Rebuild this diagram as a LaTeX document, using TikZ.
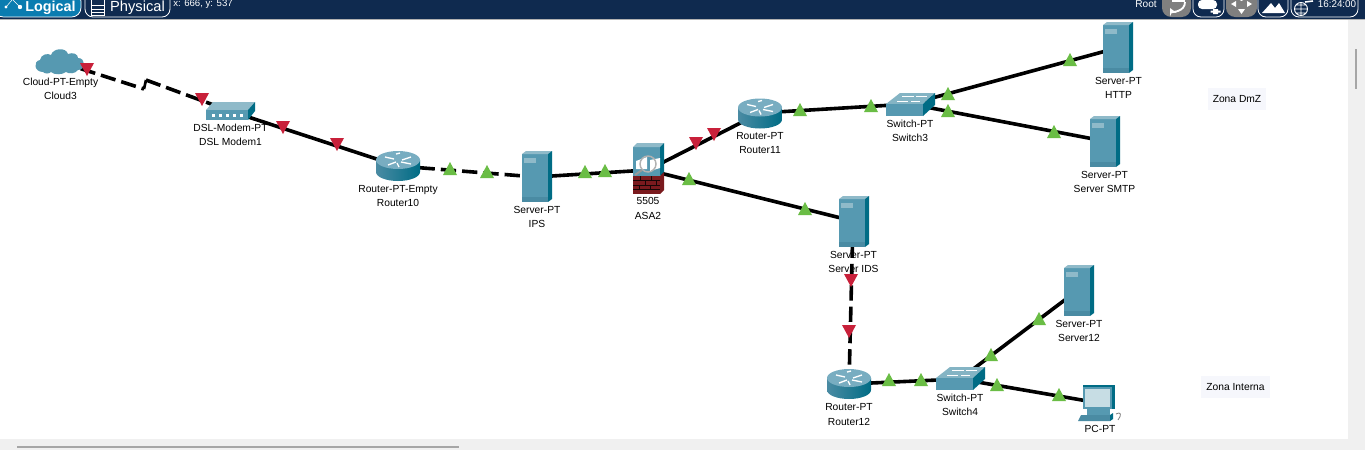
\documentclass[tikz,border=0pt]{standalone}
\usepackage{fontspec}
\setmainfont{Liberation Sans}
\definecolor{barblue}{HTML}{0F2A4F}
\definecolor{tabblue}{HTML}{0A7CB0}
\definecolor{devfront}{HTML}{5699B1}
\definecolor{devtop}{HTML}{8FBAC9}
\definecolor{devside}{HTML}{006C85}
\definecolor{devdark}{HTML}{4A8BA3}
\definecolor{grn}{HTML}{6ABD45}
\definecolor{rd}{HTML}{C8203A}
\definecolor{brick}{HTML}{7A1A1E}
\definecolor{panel}{HTML}{F0F0F0}
\definecolor{zonebg}{HTML}{F6F7FC}
\definecolor{btngray}{HTML}{7F7F7F}
\tikzset{
  anchorpt/.style={inner sep=0pt,minimum size=0pt},
  link/.style={line width=2.7pt,black},
  dashlink/.style={link,dash pattern=on 11.5pt off 4.5pt},
  lab/.style={font=\fontsize{7.7pt}{10.6pt}\selectfont,align=center,text=black,inner sep=0pt},
  zone/.style={lab,fill=zonebg,inner sep=0pt},
  bartext/.style={text=white,inner sep=0pt},
  btn/.style={draw=white,line width=.6pt,rounded corners=6pt},
  upt/.pic={\fill[grn] (-7,6) -- (0,-7) -- (7,6) -- cycle;},
  dnt/.pic={\fill[rd] (-7,-6) -- (0,7) -- (7,-6) -- cycle;},
  serverpic/.pic={
    \fill[devfront] (1,3) rectangle (27,51);
    \fill[devdark] (1,46) rectangle (27,51);
    \fill[devtop] (1,3) -- (5,0) -- (31,0) -- (27,3) -- cycle;
    \fill[devside] (27,3) -- (31,0) -- (31,48) -- (27,51) -- cycle;
    \fill[devtop] (3,7) rectangle (15,12);
  },
  routerpic/.pic={
    \shade[left color=devdark,middle color=white,right color=devside]
      (-22,-6) -- (-22,6) arc[start angle=180,end angle=0,x radius=22,y radius=9] -- (22,-6) -- cycle;
    \fill[devfront!80!white] (0,-6) ellipse[x radius=22,y radius=9];
    \draw[white,line width=1pt] (-13,-9) -- (-4,-7) (-2,-4) -- (-10,-1) (13,-9) -- (4,-6) (3,-4) -- (13,-2) (-2,-12) -- (2,-13) (-1,-3) -- (1,1);
  },
  switchpic/.pic={
    \fill[devtop!80!devfront] (0,11) -- (14,0) -- (49,0) -- (37,11) -- cycle;
    \fill[devfront] (0,11) rectangle (37,23);
    \fill[devside] (37,11) -- (49,0) -- (49,12) -- (37,23) -- cycle;
    \draw[white,line width=.5pt] (16,3) -- (28,3) (30,3) -- (41,3) (11,8) -- (22,8) (25,8) -- (34,8);
  },
  modempic/.pic={
    \fill[devtop] (0,8) -- (7,0) -- (49,0) -- (42,8) -- cycle;
    \fill[devfront] (0,8) rectangle (42,18);
    \fill[devside] (42,8) -- (49,0) -- (49,9) -- (42,18) -- cycle;
    \foreach \k in {6,13,20,27,34}{\fill[white] (\k,12) rectangle +(2.5,2.5);}
  },
  cloudpic/.pic={
    \shade[left color=devfront,middle color=devtop,right color=devfront]
      (-17,11) .. controls (-26,11) and (-27,0) .. (-20,-1)
      .. controls (-19,-7) and (-12,-8) .. (-9,-6)
      .. controls (-7,-13) and (6,-14) .. (8,-7)
      .. controls (13,-9) and (18,-7) .. (18,-3)
      .. controls (26,-3) and (26,9) .. (18,9)
      .. controls (15,13) and (9,13) .. (6,11)
      .. controls (2,14) and (-6,14) .. (-9,11)
      .. controls (-11,13) and (-15,13) .. (-17,11) -- cycle;
  },
  asapic/.pic={
    \fill[devfront] (0,4) rectangle (27,33);
    \fill[devtop] (0,4) -- (4,0) -- (31,0) -- (27,4) -- cycle;
    \fill[devside] (27,4) -- (31,0) -- (31,29) -- (27,33) -- cycle;
    \fill[brick] (0,33) rectangle (27,51);
    \fill[brick] (27,33) -- (31,29) -- (31,47) -- (27,51) -- cycle;
    \draw[black!80!brick,line width=.5pt] (0,37.5) -- (27,37.5) (0,42) -- (27,42) (0,46.5) -- (27,46.5) (7,33) -- (7,37.5) (18,33) -- (18,37.5) (12,37.5) -- (12,42) (23,37.5) -- (23,42) (6,42) -- (6,46.5) (17,42) -- (17,46.5);
    \fill[white] (3,18) -- (14,14) -- (14,26) -- (3,26) -- cycle;
    \fill[white] (17,17) -- (27,15) -- (27,25) -- (17,28) -- cycle;
    \draw[gray!60,line width=1.1pt] (15,21) circle[radius=8];
    \draw[gray!80,line width=1.5pt] (9,27) -- (2,32);
  },
  pcpic/.pic={
    \fill[devside] (0,0) rectangle (32,24);
    \fill[devfront] (0,2) rectangle (29,24);
    \fill[devtop!50!white] (2,4) rectangle (27,22);
    \fill[devfront] (4,24) rectangle (27,30);
    \fill[devdark] (-2,30) -- (27,30) -- (27,36) -- (-5,36) -- cycle;
    \fill[devside] (27,30) -- (30,28) -- (30,34) -- (27,36) -- cycle;
    \draw[gray,line width=.6pt] (33,29) .. controls (38,26) and (39,30) .. (35,35);
  }
}
\begin{document}
\begin{tikzpicture}[x=.75pt,y=-.75pt]
\useasboundingbox (0,0) rectangle (1365,450);
\fill[white] (0,0) rectangle (1365,450);
% panels
\fill[panel] (0,439) rectangle (1365,450);
\fill[panel] (1348,19) rectangle (1365,450);
\fill[gray!70] (1354.5,49) rectangle (1356.5,89);
\fill[gray!70] (17,445.5) rectangle (459,447.5);
% device anchors
\node[anchorpt] (cloud) at (60,62) {};
\coordinate (zigA) at (144,89);
\coordinate (zigB) at (146,80);
\node[anchorpt] (modem) at (230,111) {};
\node[anchorpt] (rten) at (398,166) {};
\node[anchorpt] (ips) at (536,177) {};
\node[anchorpt] (asa) at (648,170) {};
\node[anchorpt] (rele) at (760,113) {};
\node[anchorpt] (swthree) at (910,104) {};
\node[anchorpt] (http) at (1117,48) {};
\node[anchorpt] (smtp) at (1104,141) {};
\node[anchorpt] (ids) at (853,221) {};
\node[anchorpt] (rtw) at (849,384) {};
\node[anchorpt] (swfour) at (960,379) {};
\node[anchorpt] (srvtw) at (1078,290) {};
\node[anchorpt] (pc) at (1099,403) {};
% links
\draw[dashlink] (cloud) -- (zigA);
\draw[link,line width=2pt] (zigA) -- (zigB);
\draw[dashlink] (zigB) -- (modem);
\draw[link] (modem) -- (rten);
\draw[dashlink] (rten) -- (ips);
\draw[link] (ips) -- (asa);
\draw[link] (asa) -- (rele);
\draw[link] (asa) -- (ids);
\draw[link] (rele) -- (swthree);
\draw[link] (swthree) -- (http);
\draw[link] (swthree) -- (smtp);
\draw[dashlink] (ids) -- (rtw);
\draw[link] (rtw) -- (swfour);
\draw[link] (swfour) -- (srvtw);
\draw[link] (swfour) -- (pc);
% devices
\pic at (60,61) {cloudpic};
\pic at (206,102) {modempic};
\pic at (398,166) {routerpic};
\pic at (521,151) {serverpic};
\pic at (633,143) {asapic};
\pic at (760,113.5) {routerpic};
\pic at (886,93) {switchpic};
\pic at (1102,22) {serverpic};
\pic at (1089,116) {serverpic};
\pic at (838,196) {serverpic};
\pic at (1063,265) {serverpic};
\pic at (849,384) {routerpic};
\pic at (936,367) {switchpic};
\pic at (1083,385) {pcpic};
% link state triangles
\foreach \a/\b in {87/69,202/99,283/127,337/144,696/143,714/134,851/280,849/331}{\pic at (\a,\b) {dnt};}
\foreach \a/\b in {450/169,487/172,585/172,605/171,689/179,805/209,800/110,871/106,948/94,948/111,1070/60,1054/132,889/380,921/380,997/385,1059/395,991/355,1039/319}{\pic at (\a,\b) {upt};}
% labels
\node[lab] (lcloud) at (60.5,89) {Cloud-PT-Empty\\Cloud3};
\node[lab] (lmodem) at (230.5,135) {DSL-Modem-PT\\DSL Modem1};
\node[lab] (lrten) at (398,196) {Router-PT-Empty\\Router10};
\node[lab] (lips) at (537,217) {Server-PT\\IPS};
\node[lab] (lasa) at (648,208.5) {5505\\ASA2};
\node[lab] (lrele) at (760,143) {Router-PT\\Router11};
\node[lab] (lswthree) at (910,131) {Switch-PT\\Switch3};
\node[lab] (lhttp) at (1118.5,88) {Server-PT\\HTTP};
\node[lab] (lsmtp) at (1104.5,182) {Server-PT\\Server SMTP};
\node[lab] (lids) at (853.5,262) {Server-PT\\Server IDS};
\node[lab] (lsrvtw) at (1079,331) {Server-PT\\Server12};
\node[lab] (lrtw) at (849,414.5) {Router-PT\\Router12};
\node[lab] (lswfour) at (960,404.5) {Switch-PT\\Switch4};
\node[lab] (lpc) at (1100,429) {PC-PT};
\node[zone,minimum width=43.5pt,minimum height=16.5pt] (zdmz) at (1237,99) {Zona DmZ};
\node[zone,minimum width=52pt,minimum height=16.5pt] (zint) at (1235.5,387) {Zona Interna};
% top bar
\fill[barblue] (0,0) rectangle (1365,19);
\fill[gray!60] (0,18.5) rectangle (1365,19.5);
\draw[btn] (85,-8) -- (85,17) -- (170,17) -- (170,-8);
\fill[tabblue,draw=white,line width=.6pt,rounded corners=7pt] (-6,-8) rectangle (81,17);
\fill[white] (6,7) circle[radius=1.6] (20,7) circle[radius=2.2];
\draw[white,line width=.4pt] (6,7) -- (12,0) (20,7) -- (13,0);
\node[bartext,anchor=base,font=\bfseries\fontsize{10.8pt}{12pt}\selectfont] (tlog) at (50.5,11.5) {Logical};
\draw[white,line width=.4pt] (91,-1) rectangle (104,15) (91,5) -- (104,5) (91,9) -- (104,9) (91,12) -- (104,12);
\node[bartext,anchor=base,font=\fontsize{11pt}{12pt}\selectfont] (tphy) at (137.5,11.5) {Physical};
\node[bartext,font=\fontsize{7.2pt}{8pt}\selectfont] (tpos) at (203,4.5) {x: 666, y: 537};
\node[bartext,font=\fontsize{7.6pt}{8pt}\selectfont] (troot) at (1146,4.5) {Root};
% right buttons
\fill[btngray,rounded corners=7pt] (1162,-8) rectangle (1191,17);
\draw[white,line width=1.4pt,-stealth] (1185,2) .. controls (1185,12) and (1172,12) .. (1170,8);
\draw[white,line width=1.2pt] (1172,1) -- (1185,1);
\draw[btn] (1193,-8) -- (1193,17) -- (1224,17) -- (1224,-8);
\fill[white,rounded corners=3pt] (1198,0) rectangle (1217,9);
\fill[white] (1213,9) rectangle (1218,14) (1210.5,10.5) rectangle (1220.5,12.5);
\fill[btngray,rounded corners=7pt] (1226,-8) rectangle (1257,17);
\fill[white] (1231,4) -- (1236,1) -- (1236,7) -- cycle (1252,4) -- (1247,1) -- (1247,7) -- cycle (1238,9) -- (1245,9) -- (1241.5,14) -- cycle (1238,-1) -- (1245,-1) -- (1241.5,1) -- cycle;
\draw[btn] (1258,-8) -- (1258,17) -- (1288,17) -- (1288,-8);
\fill[white] (1262,13) -- (1271,3) -- (1275,8) -- (1279,3) -- (1285,13) -- cycle;
\draw[btn] (1291,-8) -- (1291,17) -- (1358,17) -- (1358,-8);
\draw[white,line width=.7pt] (1301,9) circle[radius=6.5] (1294.5,9) -- (1307.5,9) (1301,2.5) -- (1301,15.5) (1296,5) -- (1306,5) (1296,13) -- (1306,13);
\draw[white,line width=1.2pt] (1305,2) -- (1313,1);
\node[bartext,font=\fontsize{7.4pt}{8pt}\selectfont] (tclock) at (1337,4.5) {16:24:00};
\end{tikzpicture}
\end{document}
